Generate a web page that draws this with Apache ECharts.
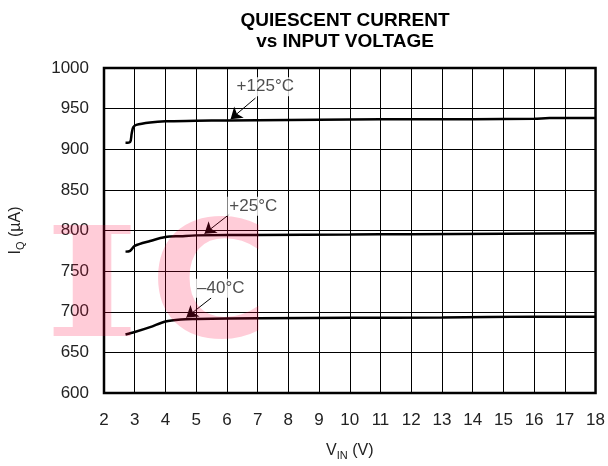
<!DOCTYPE html>
<html>
<head>
<meta charset="utf-8">
<script src="https://cdn.jsdelivr.net/npm/echarts@6/dist/echarts.min.js"></script>
<style>
  html, body { margin: 0; padding: 0; background: #fff; }
  #chart { width: 608px; height: 466px; }
</style>
</head>
<body>
<div id="chart"></div>
<script>
// x ticks (V) and y ticks (uA)
const xTicks = [2, 18, 1];
const yTicks = [600, 1000, 50];

// I_Q vs V_IN
const curve125 = [[2.7, 908], [2.85, 909], [2.9, 919], [2.95, 927], [3.05, 930], [3.5, 933], [4, 934.5], [5, 935], [6, 935.5], [8, 936], [10, 936.5], [12, 937], [14, 937], [16, 937.5], [16.5, 938.5], [18, 938.5]];
const curve25 = [[2.7, 774], [2.85, 775], [3.0, 781], [3.5, 787], [4, 792], [4.5, 793], [5, 794], [7, 794.5], [10, 795], [12, 795.5], [15, 796], [18, 796.5]];
const curveM40 = [[2.7, 672], [3.0, 675], [3.5, 681], [4, 688], [4.5, 690.5], [5, 691], [7, 692], [10, 692.5], [13, 693], [16, 694], [18, 694]];

// annotation: label text, label position, arrow tail -> arrow tip
const tempLabels = ['+125°C', '+25°C', '\u201340°C'];
const labelPos = [[7.25, 977], [6.86, 830], [5.8, 729]];
const arrowTail = [[6.93, 963], [6.08, 820], [5.49, 717]];
const arrowTip = [[6.12, 937], [5.27, 796], [4.68, 693]];

const chart = echarts.init(document.getElementById('chart'));
const font = 'Liberation Sans, Arial, Helvetica, sans-serif';
const nameRich = {
  a: { fontSize: 16, fontFamily: font, color: '#222', lineHeight: 20 },
  s: { fontSize: 11, fontFamily: font, color: '#222', lineHeight: 10, verticalAlign: 'bottom' }
};

const lineSeries = (data) => ({
  type: 'line',
  data: data,
  showSymbol: false,
  smooth: 0.3,
  lineStyle: { color: '#000', width: 2.5 },
  z: 3
});

chart.setOption({
  animation: false,
  title: {
    text: 'QUIESCENT CURRENT\nvs INPUT VOLTAGE',
    left: 340,
    top: 5,
    textAlign: 'center',
    textStyle: { fontFamily: font, fontWeight: 'bold', fontSize: 19, lineHeight: 21, color: '#000' }
  },
  grid: {
    left: 100, right: 11, top: 68, bottom: 61,
    show: true, borderColor: '#000', borderWidth: 2.5, backgroundColor: '#fff'
  },
  xAxis: {
    type: 'value',
    min: xTicks[0], max: xTicks[1], interval: xTicks[2],
    name: '{a|V}{s|IN}{a| (V)}',
    nameLocation: 'middle',
    nameGap: 48,
    nameTextStyle: { color: '#222', fontFamily: font, rich: nameRich },
    axisLine: { show: false },
    axisTick: { show: false },
    axisLabel: { color: '#222', fontFamily: font, fontSize: 17, margin: 19 },
    splitLine: { show: true, lineStyle: { color: '#000', width: 1 } }
  },
  yAxis: {
    type: 'value',
    min: yTicks[0], max: yTicks[1], interval: yTicks[2],
    name: '{a|I}{s|Q}{a| (\u00b5A)}',
    nameLocation: 'middle',
    nameRotate: 90,
    nameGap: 78,
    nameTextStyle: { color: '#222', fontFamily: font, rich: nameRich },
    axisLine: { show: false },
    axisTick: { show: false },
    axisLabel: { color: '#222', fontFamily: font, fontSize: 17, margin: 15, formatter: (v) => String(v) },
    splitLine: { show: true, lineStyle: { color: '#000', width: 1 } }
  },
  series: [
    lineSeries(curve125),
    lineSeries(curve25),
    lineSeries(curveM40),
    {
      type: 'lines',
      coordinateSystem: 'cartesian2d',
      data: arrowTail.map((t, i) => ({ coords: [t, arrowTip[i]] })),
      symbol: ['none', 'arrow'],
      symbolSize: [0, 11],
      lineStyle: { color: '#000', width: 1, opacity: 1 },
      z: 4
    },
    {
      type: 'scatter',
      data: labelPos.map((p, i) => ({ value: p, name: tempLabels[i] })),
      symbolSize: 0,
      label: {
        show: true,
        position: 'inside',
        formatter: (p) => p.name,
        color: '#222',
        fontFamily: font,
        fontSize: 17,
        backgroundColor: '#fff',
        padding: [1, 2]
      },
      z: 5
    }
  ],
  // pink watermark over the plot
  graphic: [
    {
      type: 'text',
      left: 44,
      top: 221,
      scaleX: 1.35,
      z: 100,
      silent: true,
      style: { text: 'I', fontFamily: 'DejaVu Serif', fontWeight: 'bold', fontSize: 152, fill: 'rgba(255, 0, 60, 0.2)' }
    },
    {
      type: 'text',
      left: 150,
      top: 214,
      z: 100,
      silent: true,
      style: { text: 'C', fontFamily: 'DejaVu Sans', fontWeight: 'bold', fontSize: 162, fill: 'rgba(255, 0, 60, 0.2)' }
    }
  ]
});
</script>
</body>
</html>
